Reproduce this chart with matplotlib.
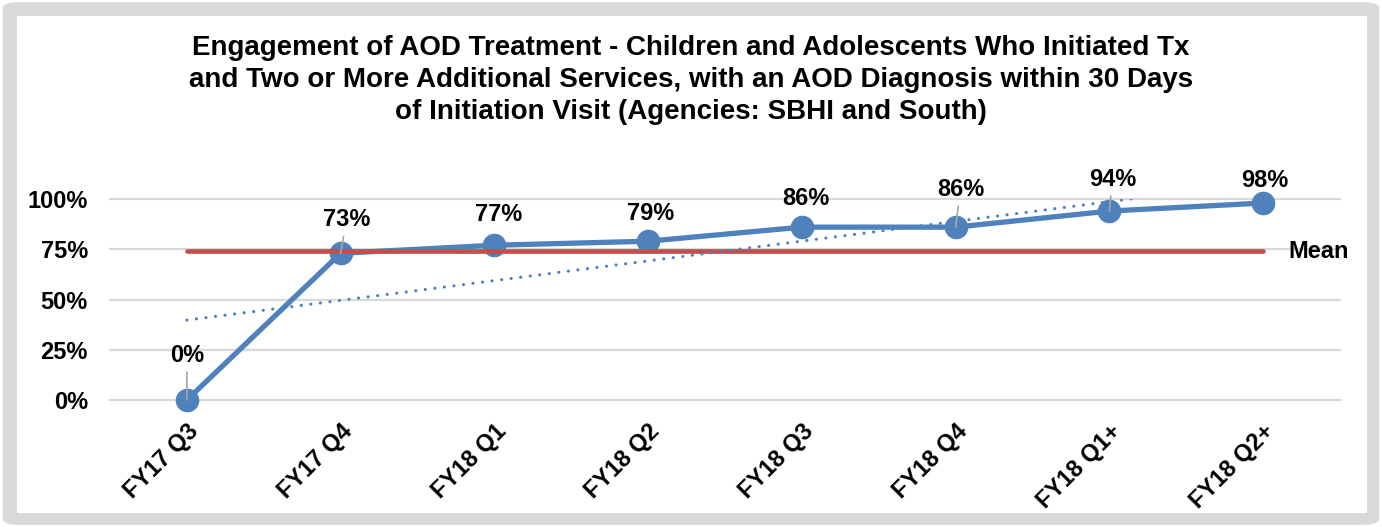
import numpy as np
import matplotlib
matplotlib.use("Agg")
import matplotlib.pyplot as plt
from matplotlib.patches import FancyBboxPatch, Rectangle

plt.rcParams['font.family'] = ['Liberation Sans', 'DejaVu Sans']

# data
quarters = ["FY17 Q3", "FY17 Q4", "FY18 Q1", "FY18 Q2",
            "FY18 Q3", "FY18 Q4", "FY18 Q1+", "FY18 Q2+"]
engagement = [0.00, 0.73, 0.77, 0.79, 0.86, 0.86, 0.94, 0.98]
y_ticks = [0, 0.25, 0.50, 0.75, 1.00]
y_tick_labels = ["0%", "25%", "50%", "75%", "100%"]

title = ("Engagement of AOD Treatment - Children and Adolescents Who Initiated Tx\n"
         "and Two or More Additional Services, with an AOD Diagnosis within 30 Days\n"
         "of Initiation Visit (Agencies: SBHI and South)")

BLUE = "#4F81BD"
RED = "#C0504D"
GRID = "#D9D9D9"
FS = 17

# label offsets above the points (pixels) and which get a leader line
label_dy = [45, 34, 31, 28, 29, 38, 32, 23]
label_dx = [0, 6, 4, 2, 4, 5, 3, 2]
leaders = {0, 1, 5, 6}

fig = plt.figure(figsize=(13.82, 5.27), dpi=100)
fig.patch.set_facecolor("white")

# gray frame around the chart
fig.patches.append(FancyBboxPatch((0.002, 0.004), 0.996, 0.992,
                                  boxstyle="round,pad=0,rounding_size=0.012",
                                  transform=fig.transFigure, facecolor=GRID,
                                  edgecolor="none", zorder=-2))
fig.patches.append(Rectangle((17 / 1382, 1 - 513 / 527), 1350 / 1382, 497 / 527,
                             transform=fig.transFigure, facecolor="white",
                             edgecolor="none", zorder=-1))

ax = fig.add_axes([110 / 1382, 1 - 400 / 527, 1230 / 1382, 201 / 527])
ax.set_facecolor("none")

x = np.arange(len(quarters))
y = np.array(engagement)

ax.set_xlim(-0.5, len(quarters) - 0.5)
ax.set_ylim(0, 1.0)
ax.set_yticks(y_ticks)
ax.set_yticklabels(y_tick_labels)
ax.set_xticks(x)
ax.set_xticklabels(quarters, rotation=45, ha="right", rotation_mode="anchor")
for spine in ax.spines.values():
    spine.set_visible(False)
ax.tick_params(axis="both", length=0, labelsize=FS)
ax.tick_params(axis="y", pad=16)
ax.tick_params(axis="x", pad=14)
for lbl in ax.get_xticklabels() + ax.get_yticklabels():
    lbl.set_fontweight("bold")

for t in y_ticks:
    ax.axhline(t, color=GRID, lw=1.6, zorder=1, clip_on=False)

# series
ax.plot(x, y, color=BLUE, lw=3.8, marker="o", markersize=16,
        zorder=3, clip_on=False)

# mean line
mean = y.mean()
ax.plot([x[0], x[-1]], [mean, mean], color=RED, lw=3.4,
        solid_capstyle="round", zorder=4)
ax.annotate("Mean", xy=(x[-1], mean), xytext=(18, 0), textcoords="offset points",
            ha="left", va="center", fontsize=FS, fontweight="bold",
            annotation_clip=False)

# linear trendline
slope, icpt = np.polyfit(x, y, 1)
ax.plot(x, slope * x + icpt, color=BLUE, lw=2.3, linestyle=(0, (0.01, 3.0)),
        dash_capstyle="round", zorder=5)

# data labels
for i, (xi, yi) in enumerate(zip(x, y)):
    props = None
    if i in leaders:
        props = dict(arrowstyle="-", color="#A6A6A6", lw=1.2,
                     shrinkA=2, shrinkB=0)
    ax.annotate(f"{yi:.0%}", xy=(xi, yi),
                xytext=(label_dx[i] * 0.72, label_dy[i] * 0.72),
                textcoords="offset points", ha="center", va="center",
                fontsize=FS, fontweight="bold", zorder=6,
                arrowprops=props, annotation_clip=False)

fig.text(0.5, 1 - 35 / 527, title, ha="center", va="top", fontsize=20,
         fontweight="bold", linespacing=1.31)

fig.savefig("out.png", dpi=100)
